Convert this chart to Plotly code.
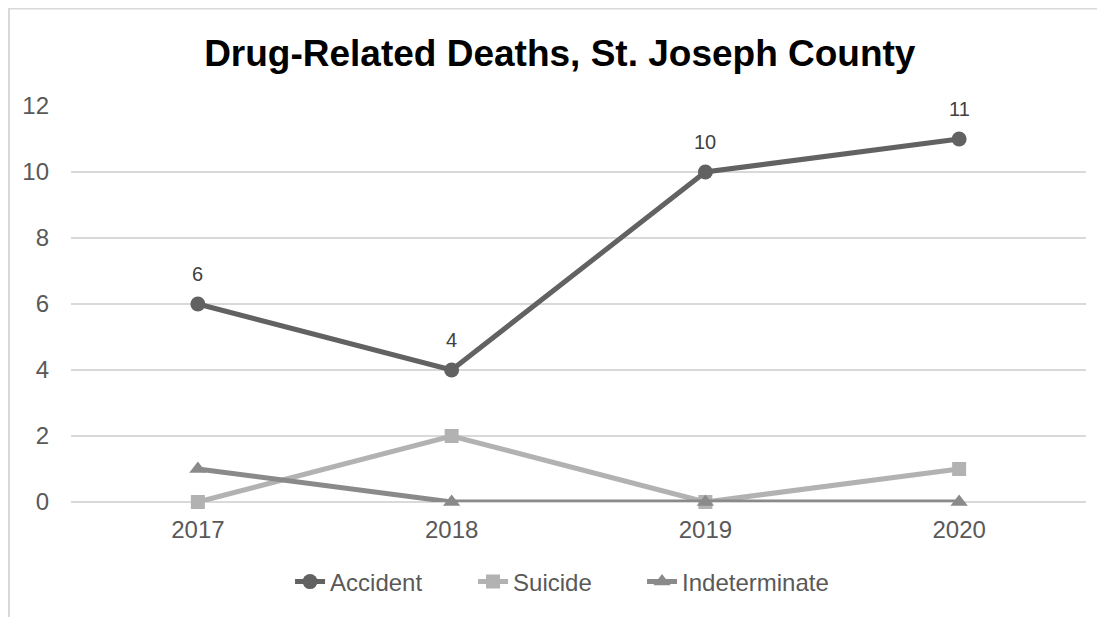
import plotly.graph_objects as go

years = ['2017', '2018', '2019', '2020']
accident = [6, 4, 10, 11]
suicide = [0, 2, 0, 1]
indeterminate = [1, 0, 0, 0]

fig = go.Figure()
fig.add_trace(go.Scatter(
    x=years, y=accident, name='Accident', mode='lines+markers',
    line=dict(color='#626262', width=5),
    marker=dict(symbol='circle', size=15, color='#626262'),
    cliponaxis=False, legend='legend'
))
fig.add_trace(go.Scatter(
    x=years, y=suicide, name='Suicide', mode='lines+markers',
    line=dict(color='#b2b2b2', width=5),
    marker=dict(symbol='square', size=14, color='#b2b2b2'),
    cliponaxis=False, legend='legend2'
))
fig.add_trace(go.Scatter(
    x=years, y=indeterminate, name='Indeterminate', mode='lines+markers',
    line=dict(color='#8a8a8a', width=5),
    marker=dict(symbol='triangle-up', size=15, color='#8a8a8a'),
    cliponaxis=False, legend='legend3'
))

# data labels on the Accident series (category index on x)
for i, v in enumerate(accident):
    fig.add_annotation(
        x=i, y=v, text=str(v), showarrow=False,
        yanchor='bottom', yshift=17,
        font=dict(size=20, color='#404040')
    )

leg_style = dict(orientation='h', yanchor='middle', y=-0.202, xanchor='left',
                 font=dict(size=24, color='#595959'), bgcolor='rgba(0,0,0,0)')

fig.update_layout(
    width=1097,
    height=609,
    margin=dict(l=63, r=19, t=98, b=115),
    paper_bgcolor='white',
    plot_bgcolor='white',
    showlegend=True,
    font_family='Liberation Sans',
    font_color='#595959',
    title=dict(
        text='<b>Drug-Related Deaths, St. Joseph County</b>',
        x=0.503, xanchor='center', y=0.926, yanchor='middle',
        font=dict(size=37, color='black', family='Liberation Sans')
    ),
    xaxis=dict(
        type='category', range=[-0.5, 3.5], showgrid=False, zeroline=False,
        showline=False, tickfont=dict(size=24, color='#595959'),
        ticklabelstandoff=11
    ),
    yaxis=dict(
        range=[0, 12], dtick=2, showgrid=True, gridcolor='#d9d9d9', gridwidth=2,
        zeroline=True, zerolinecolor='#d9d9d9', zerolinewidth=2,
        showline=False, tickfont=dict(size=24, color='#595959'),
        ticklabelstandoff=21
    ),
    legend=dict(x=0.2158, **leg_style),
    legend2=dict(x=0.3961, **leg_style),
    legend3=dict(x=0.5626, **leg_style),
    shapes=[dict(
        type='rect', xref='paper', yref='paper',
        x0=-0.0611, x1=1.05, y0=-0.35, y1=1.246,
        line=dict(color='#d9d9d9', width=2), layer='below'
    )]
)

fig.write_html('out.html')
